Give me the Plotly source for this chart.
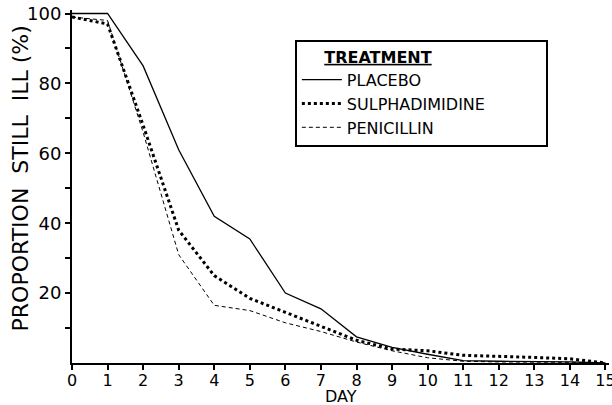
import plotly.graph_objects as go

days = [0, 1, 2, 3, 4, 5, 6, 7, 8, 9, 10, 11, 12, 13, 14, 15]
placebo = [100, 100, 85, 61, 42, 35.5, 20, 15.5, 7.5, 4.5, 2.5, 0.7, 0.5, 0.5, 0.3, 0]
sulpha_days = [0, 1, 2, 3, 4, 5, 6, 7, 8, 9, 10, 11, 12, 13, 14, 14.5, 15]
sulpha = [99, 97, 68, 38, 25, 18.5, 14.5, 10.5, 6.5, 4, 3.5, 2.2, 2, 1.6, 1.2, 0.5, 0]
penicillin = [99, 98, 66, 31, 16.5, 15, 11.5, 9, 6, 3.5, 1.5, 0.5, 0.3, 0.3, 0.2, 0]

x_tickvals = list(range(0, 16))
y_tickvals = [20, 40, 60, 80, 100]
y_minor = [10, 30, 50, 70, 90]

font_family = "DejaVu Sans"

fig = go.Figure()
fig.add_trace(go.Scatter(x=days, y=placebo, mode="lines", name="PLACEBO",
                         line=dict(color="black", width=1.3, dash="solid")))
fig.add_trace(go.Scatter(x=sulpha_days, y=sulpha, mode="lines", name="SULPHADIMIDINE",
                         line=dict(color="black", width=3, dash="dot")))
fig.add_trace(go.Scatter(x=days, y=penicillin, mode="lines", name="PENICILLIN",
                         line=dict(color="black", width=1, dash="4px,3px")))

fig.update_layout(
    width=612, height=405,
    margin=dict(l=72, r=3, t=10, b=42),
    paper_bgcolor="white", plot_bgcolor="white",
    font=dict(family=font_family, color="black"),
    showlegend=True,
    legend=dict(
        x=0.415, y=0.915, xanchor="left", yanchor="top",
        bordercolor="black", borderwidth=2, bgcolor="white",
        font=dict(size=16, family=font_family, color="black"),
        title=dict(text="     <u><b>TREATMENT</b></u>" + "&nbsp;" * 22,
                   font=dict(size=16, family=font_family), side="top"),
        tracegroupgap=0, itemwidth=40,
    ),
    xaxis=dict(
        range=[0, 15.1], showgrid=False, zeroline=False, automargin=False,
        showline=True, linecolor="black", linewidth=2,
        tickmode="array", tickvals=x_tickvals,
        ticks="outside", ticklen=5, tickwidth=2, tickcolor="black",
        tickfont=dict(size=16, family=font_family),
        ticklabeloverflow="allow", ticklabelstandoff=-3,
    ),
    yaxis=dict(
        range=[0, 101], showgrid=False, zeroline=False, automargin=False,
        showline=True, linecolor="black", linewidth=2,
        tickmode="array", tickvals=y_tickvals,
        ticks="outside", ticklen=5, tickwidth=2, tickcolor="black",
        tickfont=dict(size=18, family=font_family),
        ticklabeloverflow="allow",
        minor=dict(tickmode="array", tickvals=y_minor, ticks="outside",
                   ticklen=5, tickwidth=2, tickcolor="black", showgrid=False),
    ),
    annotations=[
        dict(text="PROPORTION  STILL  ILL (%)", textangle=-90,
             xref="paper", yref="paper", x=-0.0967, y=0.523,
             xanchor="center", yanchor="middle", showarrow=False,
             font=dict(size=22, family=font_family, color="black")),
        dict(text="DAY", xref="paper", yref="paper", x=0.5, y=-0.096,
             xanchor="center", yanchor="middle", showarrow=False,
             font=dict(size=16, family=font_family, color="black")),
    ],
)

fig.write_html("out.html", config={"displayModeBar": False},
               post_script="document.body.style.margin='0';document.body.style.overflow='hidden';")
